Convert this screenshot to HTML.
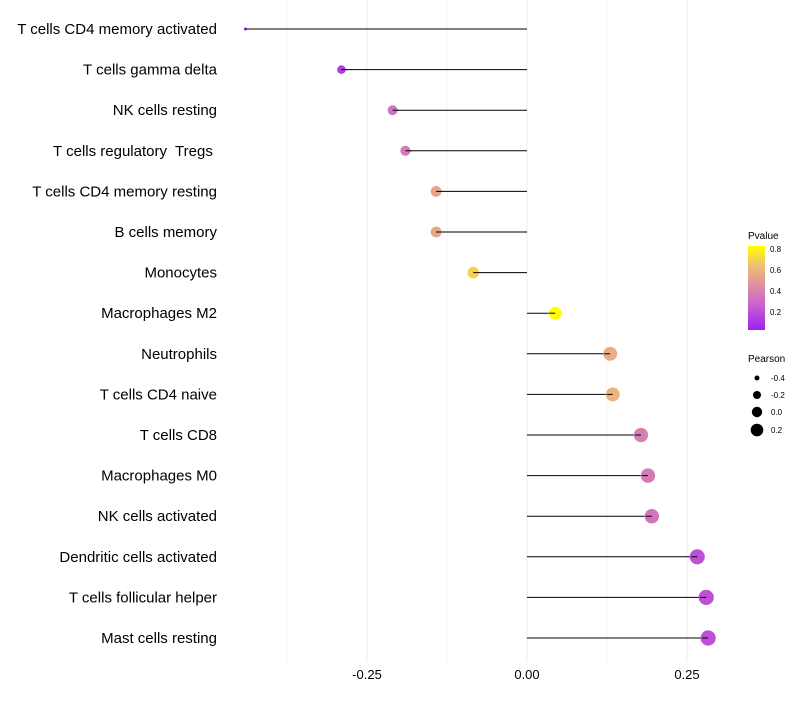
<!DOCTYPE html>
<html><head><meta charset="utf-8"><style>
body{margin:0;background:#fff;font-family:"Liberation Sans",sans-serif}
svg text{font-family:"Liberation Sans",sans-serif;white-space:pre}
</style></head><body>
<svg id="chart" width="800" height="700" xmlns="http://www.w3.org/2000/svg">
<g id="grid"></g>
<g id="marks"></g>
<g id="ylabels"></g>
<g id="xlabels"></g>
<g>
<defs><linearGradient id="pg" x1="0" y1="1" x2="0" y2="0">
<stop offset="0" stop-color="#a020f0"/><stop offset="0.32" stop-color="#cc66cc"/><stop offset="0.58" stop-color="#e09a98"/><stop offset="0.77" stop-color="#f0c070"/><stop offset="1" stop-color="#ffff00"/></linearGradient></defs>
<text x="748" y="239" font-size="10">Pvalue</text>
<rect x="748" y="246" width="17" height="84" fill="url(#pg)"/>
<text x="770" y="252" font-size="8">0.8</text>
<text x="770" y="273" font-size="8">0.6</text>
<text x="770" y="294" font-size="8">0.4</text>
<text x="770" y="315" font-size="8">0.2</text>
</g>
<g>
<text x="748" y="362" font-size="10">Pearson</text>
<circle cx="757" cy="378" r="2.5" fill="#000"/><text x="771" y="381" font-size="8">-0.4</text>
<circle cx="757" cy="395" r="4" fill="#000"/><text x="771" y="398" font-size="8">-0.2</text>
<circle cx="757" cy="412" r="5.2" fill="#000"/><text x="771" y="415" font-size="8">0.0</text>
<circle cx="757" cy="430" r="6.3" fill="#000"/><text x="771" y="433" font-size="8">0.2</text>
</g>
</svg>
<script>
const categories=["T cells CD4 memory activated","T cells gamma delta","NK cells resting","T cells regulatory  Tregs ","T cells CD4 memory resting","B cells memory","Monocytes","Macrophages M2","Neutrophils","T cells CD4 naive","T cells CD8","Macrophages M0","NK cells activated","Dendritic cells activated","T cells follicular helper","Mast cells resting"];
const pearson=[-0.44,-0.29,-0.21,-0.19,-0.142,-0.142,-0.084,0.044,0.13,0.134,0.178,0.189,0.195,0.266,0.28,0.283];
const pvalue=[0.05,0.15,0.35,0.38,0.55,0.55,0.7,0.83,0.58,0.6,0.4,0.38,0.36,0.22,0.22,0.22];
const xTicks=[-0.25,0,0.25];
const xTickLabels=["-0.25","0.00","0.25"];
const xMinor=[-0.375,-0.125,0.125];

const NS="http://www.w3.org/2000/svg";
const xs=v=>527+v*640;
const ys=i=>29+i*40.6;
function mk(t,a,p){const e=document.createElementNS(NS,t);for(const k in a)e.setAttribute(k,a[k]);p.appendChild(e);return e;}
function hex(c){return [1,3,5].map(i=>parseInt(c.substr(i,2),16));}
const stops=[[0.05,"#a020f0"],[0.3,"#cc66cc"],[0.5,"#e09a98"],[0.65,"#f0c070"],[0.83,"#ffff00"]];
function col(p){p=Math.max(0.05,Math.min(0.83,p));for(let i=0;i<stops.length-1;i++){const[a,ca]=stops[i],[b,cb]=stops[i+1];if(p<=b){const t=(p-a)/(b-a),A=hex(ca),B=hex(cb);return "rgb("+A.map((v,j)=>Math.round(v+(B[j]-v)*t)).join(",")+")";}}return "#ffff00";}
const rad=v=>1.5+7.2*Math.sqrt(Math.max(0,v+0.44));

const grid=document.getElementById('grid');
xMinor.forEach(v=>{const l=mk('line',{x1:xs(v),x2:xs(v),y1:0,y2:662,stroke:'#f4f4f4','stroke-width':1},grid);

});
xTicks.forEach(v=>{const l=mk('line',{x1:xs(v),x2:xs(v),y1:0,y2:662,stroke:'#ebebeb','stroke-width':1},grid);

});
const xl=document.getElementById('xlabels');
xTicks.forEach((v,i)=>{const t=mk('text',{x:xs(v),y:679,'font-size':13,'text-anchor':'middle',fill:'#000'},xl);t.textContent=xTickLabels[i];

});
const marks=document.getElementById('marks'),yl=document.getElementById('ylabels');
categories.forEach((c,i)=>{
const y=ys(i);
const l=mk('line',{x1:xs(0),x2:xs(pearson[i]),y1:y,y2:y,stroke:'#000','stroke-width':1},marks);


const p=mk('circle',{cx:xs(pearson[i]),cy:y,r:rad(pearson[i]),fill:col(pvalue[i])},marks);


const s=mk('line',{x1:xs(pearson[i]),x2:xs(pearson[i])+(pearson[i]<0?6:-6),y1:y,y2:y,stroke:'#000','stroke-width':1},marks);


const t=mk('text',{x:217,y:y+5,'font-size':15,'text-anchor':'end',fill:'#000'},yl);t.textContent=c;


});
</script>
</body></html>
